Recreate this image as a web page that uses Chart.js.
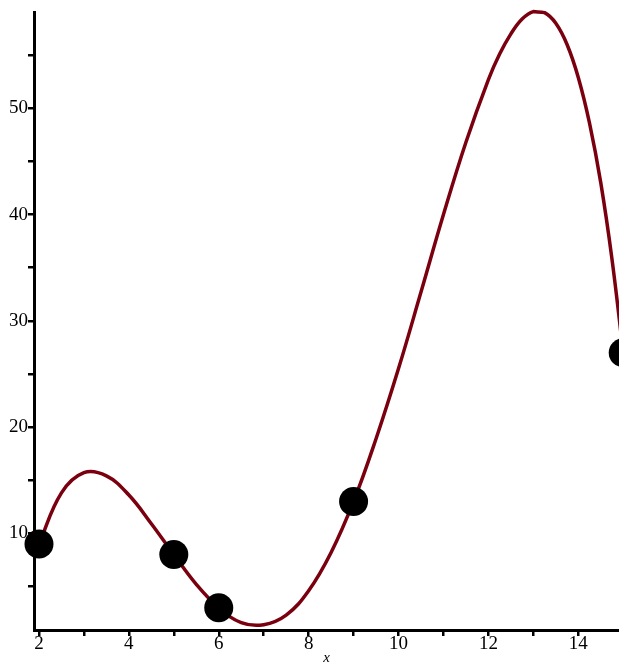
<!DOCTYPE html>
<html>
<head>
<meta charset="utf-8">
<script src="https://cdn.jsdelivr.net/npm/chart.js@4"></script>
<style>
  html, body { margin: 0; padding: 0; background: #fff; }
</style>
</head>
<body>
<canvas id="plotCanvas" width="619" height="667"></canvas>
<script>
// curve
var curveX = [2, 2.5, 3, 3.5, 4, 4.5, 5, 5.5, 6, 6.5, 7, 7.5, 8, 8.5, 9, 9.5, 10, 10.5, 11, 11.5, 12, 12.25, 12.5, 12.75, 13, 13.25, 13.5, 13.75, 14, 14.25, 14.5, 14.75, 15];
var curveY = [9, 13.8, 15.7, 15.4, 13.6, 10.9, 8, 5.2, 3, 1.6, 1.4, 2.3, 4.6, 8.2, 13, 18.9, 25.5, 32.7, 40, 46.8, 52.7, 55.1, 57, 58.4, 59.1, 59, 58, 56, 52.9, 48.6, 43, 35.8, 27];

// data points (black dots)
var pointX = [2, 5, 6, 9, 15];
var pointY = [9, 8, 3, 13, 27];

// tick values
var xTicks = [2, 3, 4, 5, 6, 7, 8, 9, 10, 11, 12, 13, 14];
var xLabels = [2, 4, 6, 8, 10, 12, 14];
var yTicks = [5, 10, 15, 20, 25, 30, 35, 40, 45, 50, 55];
var yLabels = [10, 20, 30, 40, 50];

var curve = [];
for (var i = 0; i < curveX.length; i++) {
    curve.push({x: curveX[i], y: curveY[i]});
}
var pts = [];
for (var i = 0; i < pointX.length; i++) {
    pts.push({x: pointX[i], y: pointY[i]});
}

var font = {family: "'Liberation Serif', 'DejaVu Serif', serif", size: 19};

var ctx = document.getElementById("plotCanvas");
var chart = new Chart(ctx, {
    type: "scatter",
    data: {
        datasets: [{
            data: pts,
            backgroundColor: "#000",
            borderColor: "#000",
            pointRadius: 14.5,
            pointBorderWidth: 0,
            clip: false
        }, {
            type: "line",
            data: curve,
            borderColor: "#7a0010",
            borderWidth: 3.5,
            pointRadius: 0,
            tension: 0.4,
            fill: false,
            clip: false
        }]
    },
    options: {
        responsive: false,
        animation: false,
        layout: {autoPadding: false, padding: {top: 12, right: 0, left: 0, bottom: 0}},
        plugins: {
            legend: {display: false},
            tooltip: {enabled: false}
        },
        scales: {
            x: {
                type: "linear",
                min: 1.889,
                max: 14.906,
                afterBuildTicks: function(scale) {
                    scale.ticks = xTicks.map(function(v){ return {value: v}; });
                },
                afterFit: function(scale) { scale.height = 37; },
                ticks: {
                    color: "#000",
                    font: font,
                    padding: -3,
                    maxRotation: 0,
                    autoSkip: false,
                    callback: function(v) { return xLabels.indexOf(v) >= 0 ? String(v) : ""; }
                },
                grid: {drawOnChartArea: false, tickLength: 6, color: "#000", lineWidth: 2.5},
                border: {display: true, color: "#000", width: 3},
                title: {
                    display: true,
                    text: "x",
                    color: "#000",
                    font: {family: "'Liberation Serif', serif", size: 15, style: "italic"},
                    padding: {top: 0, bottom: 0}
                }
            },
            y: {
                type: "linear",
                min: 0.9,
                max: 59.06,
                afterBuildTicks: function(scale) {
                    scale.ticks = yTicks.map(function(v){ return {value: v}; });
                },
                afterFit: function(scale) { scale.width = 34; },
                ticks: {
                    color: "#000",
                    font: font,
                    padding: 0,
                    autoSkip: false,
                    callback: function(v) { return yLabels.indexOf(v) >= 0 ? String(v) : ""; }
                },
                grid: {drawOnChartArea: false, tickLength: 6, color: "#000", lineWidth: 2.5},
                border: {display: true, color: "#000", width: 3}
            }
        }
    }
});
</script>
</body>
</html>
